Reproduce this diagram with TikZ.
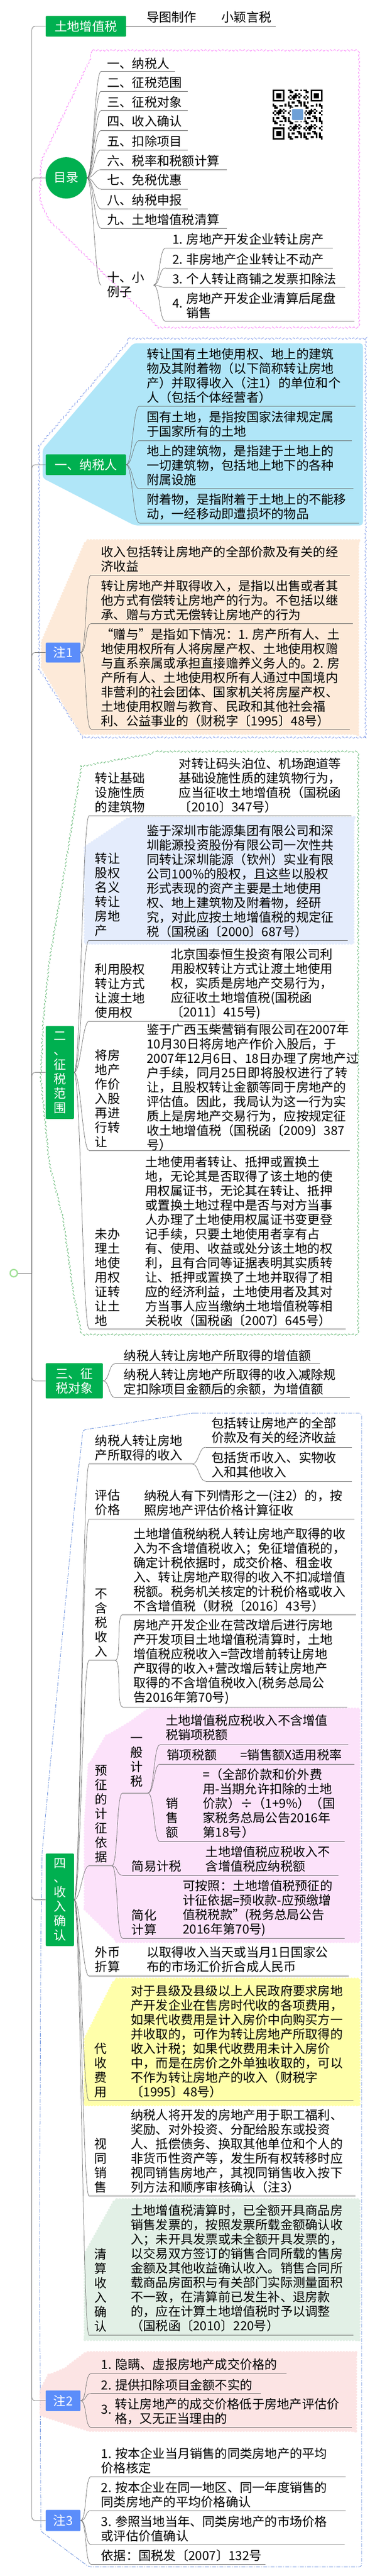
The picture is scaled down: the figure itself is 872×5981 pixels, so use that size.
\documentclass[tikz,border=0pt]{standalone}
\usepackage{fontspec}
\setmainfont{Noto Sans CJK SC}
\usetikzlibrary{decorations.pathmorphing}

\definecolor{mmgreen}{RGB}{0,176,80}
\definecolor{noteblue}{RGB}{91,141,250}
\definecolor{lnGray}{RGB}{105,105,105}
\definecolor{skyfill}{RGB}{176,230,248}
\definecolor{peachfill}{RGB}{253,234,217}
\definecolor{lavfill}{RGB}{228,236,252}
\definecolor{pinkfill}{RGB}{252,226,250}
\definecolor{yelfill}{RGB}{255,255,170}
\definecolor{mintfill}{RGB}{226,240,230}
\definecolor{rosefill}{RGB}{252,228,228}
\definecolor{pinkline}{RGB}{250,110,250}
\definecolor{blueline}{RGB}{110,140,230}
\definecolor{greenline}{RGB}{70,170,90}
\definecolor{dashblue}{RGB}{80,125,215}
\definecolor{rootgreen}{RGB}{160,225,150}
\definecolor{qrblue}{RGB}{110,160,215}

% underlined topic: name, x start, x end, y of line, text x, text y, text
\newcommand{\utopic}[7]{%
  \coordinate (#1) at (#2,#4);
  \coordinate (#1-e) at (#3,#4);
  \draw[uline] (#1) -- (#1-e);
  \node[txt] (#1-t) at (#5,#6) {#7};}
% curved connector from parent to child
\newcommand{\branch}[2]{\draw[twig] (#1) to[out=0,in=180,distance=15pt] (#2);}

\begin{document}
\begin{tikzpicture}[x=1pt, y=-1pt,
  every node/.style={font=\fontsize{29}{33.5}\selectfont},
  txt/.style={anchor=west, inner sep=0pt, align=left},
  mainbox/.style={fill=mmgreen, text=white, rounded corners=2pt, inner sep=0pt, anchor=west, align=center},
  notebox/.style={mainbox, fill=noteblue},
  uline/.style={draw=lnGray, line width=0.9pt},
  twig/.style={draw=lnGray, line width=0.9pt},
  trunkline/.style={draw=lnGray, line width=0.9pt},
  wavy/.style={line width=0.9pt, dash pattern=on 7pt off 3pt, decorate, decoration={snake, amplitude=1.8pt, segment length=10pt}},
  scallop/.style={decorate, decoration={bumps, segment length=14pt, amplitude=3.5pt}}]

  \useasboundingbox (0,0) rectangle (872,5981);
  \fill[white] (0,0) rectangle (872,5981);

  % Group backgrounds and frames
  \draw[wavy, draw=pinkline] (215,117) -- (832,117) -- (832,757) -- (369,757) -- (112,505) -- (92,460) -- (95,367) -- cycle;
  \draw[wavy, draw=blueline] (299,786) -- (852,786) -- (852,1713) -- (190,1713) -- (87,1553) -- (87,1033) -- cycle;
  \fill[skyfill, rounded corners=8pt] (310,797) -- (844,797) -- (844,1220) -- (313,1220) -- (99,1110) -- (99,1043) -- cycle;
  \fill[peachfill, scallop] (201,1255) -- (832,1255) -- (832,1703) -- (190,1703) -- (98,1550) -- (98,1490) -- cycle;
  \draw[wavy, draw=greenline] (363,1745) -- (827,1745) -- (827,3097) -- (187,3097) -- (168,3000) -- (145,2833) -- (112,2700) -- (92,2500) -- (98,2367) -- (112,2233) -- (151,2000) -- (187,1777) -- cycle;
  \fill[lavfill, scallop] (302,1898) -- (821,1898) -- (821,2190) -- (198,2190) -- (198,1967) -- cycle;
  \draw[dashblue, line width=0.9pt, dash pattern=on 9pt off 3pt on 2pt off 3pt, rounded corners=6pt] (447,3281) -- (841,3281) -- (841,5960) -- (207,5960) -- (95,5877) -- (92,5200) -- (95,4500) -- (98,4300) -- (126,4000) -- (173,3500) -- (193,3320) -- cycle;
  \fill[pinkfill, scallop] (346,3968) -- (835,3968) -- (835,4508) -- (274,4508) -- (198,4433) -- (198,4233) -- (207,4100) -- (246,4033) -- (302,4000) -- cycle;
  \fill[yelfill, scallop] (268,4595) -- (835,4595) -- (835,4887) -- (198,4887) -- (198,4733) -- cycle;
  \fill[mintfill, scallop] (268,5107) -- (835,5107) -- (835,5432) -- (198,5432) -- (198,5233) -- cycle;
  \fill[rosefill, scallop] (201,5462) -- (827,5462) -- (827,5643) -- (207,5643) -- (95,5607) -- (95,5550) -- (112,5517) -- (151,5500) -- cycle;

  % Root and main topics
  \node[circle, draw=rootgreen, line width=3pt, fill=white, minimum size=17pt, inner sep=0pt] (root) at (32,2956) {};
  \coordinate (trunk) at (74,2956);
  \node[mainbox, minimum width=187pt, minimum height=48pt] (hdr) at (106,61) {土地增值税};
  \node[circle, fill=mmgreen, text=white, minimum size=96pt, inner sep=0pt] (toc) at (154,413) {目录};
  \node[mainbox, minimum width=187pt, minimum height=48pt] (nsr) at (106,1079) {一、纳税人};
  \node[notebox, minimum width=81pt, minimum height=46pt] (n1) at (106,1515) {注1};
  \node[mainbox, minimum width=66pt, minimum height=216pt] (zsfw) at (106,2490) {二\\、\\征\\税\\范\\围};
  \node[mainbox, minimum width=133pt, minimum height=82pt] (zsdx) at (106,3206) {三、征\\税对象};
  \node[mainbox, minimum width=66pt, minimum height=215pt] (srqr) at (106,4411) {四\\、\\收\\入\\确\\认};
  \node[notebox, minimum width=81pt, minimum height=48pt] (n2) at (106,5574) {注2};
  \node[notebox, minimum width=81pt, minimum height=49pt] (n3) at (106,5852) {注3};

  % Trunk
  \draw[trunkline] (root.east) -- (trunk);
  \foreach \m in {hdr,toc,nsr,n1,zsfw,zsdx,srqr,n2,n3}
    {\draw[trunkline, rounded corners=8pt] (trunk) |- (\m.west);}

  % Title line
  \utopic{sub}{293}{641}{61}{341}{40}{导图制作\quad\quad 小颖言税}

  % Directory
  \utopic{toc1}{235}{407}{166}{249}{147}{一、纳税人}
  \utopic{toc2}{235}{437}{212}{249}{192}{二、征税范围}
  \utopic{toc3}{235}{437}{257}{249}{237}{三、征税对象}
  \utopic{toc4}{235}{437}{303}{249}{282}{四、收入确认}
  \utopic{toc5}{235}{437}{348}{249}{328}{五、扣除项目}
  \utopic{toc6}{235}{528}{394}{249}{373}{六、税率和税额计算}
  \utopic{toc7}{235}{437}{439}{249}{418}{七、免税优惠}
  \utopic{toc8}{235}{437}{485}{249}{465}{八、纳税申报}
  \utopic{toc9}{235}{528}{530}{249}{510}{九、土地增值税清算}
  \coordinate (toc10) at (235,662);
  \coordinate (toc10-e) at (357,662);
  \node[txt] (toc10-t) at (249,661) {十、小\\例子};
  \foreach \c in {toc1,toc2,toc3,toc4,toc5,toc6,toc7,toc8,toc9,toc10}
    {\branch{toc.east}{\c}}
  \utopic{ex1}{385}{774}{576}{401}{555}{1. 房地产开发企业转让房产}
  \utopic{ex2}{385}{774}{622}{401}{602}{2. 非房地产企业转让不动产}
  \utopic{ex3}{385}{803}{667}{401}{647}{3. 个人转让商铺之发票扣除法}
  \utopic{ex4}{385}{824}{746}{401}{709}{4.\hspace{8pt}\parbox[c]{390pt}{房地产开发企业清算后尾盘\\销售}}
  \foreach \c in {ex1,ex2,ex3,ex4} {\branch{toc10-e}{\c}}

  % QR code
  \foreach \i in {0,...,28} {
    \foreach \j in {0,...,28} {
      \pgfmathtruncatemacro{\qv}{mod(7*\i*\i+3*\j*\j+5*\i*\j+\i+2*\j+1,9)}
      \ifnum\qv<4 \fill (634+4*\i,208+4*\j) rectangle ++(4,4);\fi
    }
  }
  \foreach \fx/\fy in {634/208, 722/208, 634/296} {
    \fill[white] (\fx-4,\fy-4) rectangle ++(36,36);
    \fill (\fx,\fy) rectangle ++(28,28);
    \fill[white] (\fx+4,\fy+4) rectangle ++(20,20);
    \fill (\fx+8,\fy+8) rectangle ++(12,12);
  }
  \fill[white] (676,250) rectangle ++(32,32);
  \fill[qrblue, rounded corners=2pt] (679,253) rectangle ++(26,26);

  % Taxpayer
  \utopic{nsr1}{324}{826}{943}{341}{872.5}{转让国有土地使用权、地上的建筑\\物及其附着物（以下简称转让房地\\产）并取得收入（注1）的单位和个\\人（包括个体经营者）}
  \utopic{nsr2}{324}{818}{1023}{341}{984.5}{国有土地，是指按国家法律规定属\\于国家所有的土地}
  \utopic{nsr3}{324}{822}{1135}{341}{1081}{地上的建筑物，是指建于土地上的\\一切建筑物，包括地上地下的各种\\附属设施}
  \utopic{nsr4}{324}{835}{1214}{341}{1176.5}{附着物，是指附着于土地上的不能移\\动，一经移动即遭损坏的物品}
  \foreach \c in {nsr1,nsr2,nsr3,nsr4} {\branch{nsr.east}{\c}}

  % Note 1
  \utopic{n1a}{212}{813}{1335}{235}{1298.5}{收入包括转让房地产的全部价款及有关的经\\济收益}
  \utopic{n1b}{212}{820}{1448}{235}{1394}{转让房地产并取得收入，是指以出售或者其\\他方式有偿转让房地产的行为。不包括以继\\承、赠与方式无偿转让房地产的行为}
  \utopic{n1c}{212}{813}{1693}{235}{1573}{“赠与”是指如下情况：1. 房产所有人、土\\地使用权所有人将房屋产权、土地使用权赠\\与直系亲属或承担直接赡养义务人的。2. 房\\产所有人、土地使用权所有人通过中国境内\\非营利的社会团体、国家机关将房屋产权、\\土地使用权赠与教育、民政和其他社会福\\利、公益事业的（财税字〔1995〕48号）}
  \foreach \c in {n1a,n1b,n1c} {\branch{n1.east}{\c}}

  % Scope
  \utopic{za}{207}{400}{1894}{221}{1840}{转让基础\\设施性质\\的建筑物}
  \utopic{za2}{400}{817}{1894}{416}{1823}{对转让码头泊位、机场跑道等\\基础设施性质的建筑物行为，\\应当征收土地增值税（国税函\\〔2010〕347号）}
  \utopic{zb}{207}{325}{2183}{221}{2077.5}{转让\\股权\\名义\\转让\\房地\\产}
  \utopic{zb2}{325}{809}{2183}{341}{2045.5}{鉴于深圳市能源集团有限公司和深\\圳能源投资股份有限公司一次性共\\同转让深圳能源（钦州）实业有限\\公司100\%的股权，且这些以股权\\形式表现的资产主要是土地使用\\权、地上建筑物及附着物，经研\\究，对此应按土地增值税的规定征\\税（国税函〔2000〕687号）}
  \utopic{zc}{207}{382}{2371}{221}{2301}{利用股权\\转让方式\\让渡土地\\使用权}
  \utopic{zc2}{382}{802}{2371}{397}{2284.5}{北京国泰恒生投资有限公司利\\用股权转让方式让渡土地使用\\权，实质是房地产交易行为，\\应征收土地增值税(国税函\\〔2011〕415号)}
  \utopic{zd}{207}{325}{2671}{221}{2550}{将房\\地产\\作价\\入股\\再进\\行转\\让}
  \utopic{zd2}{325}{813}{2671}{341}{2524.5}{鉴于广西玉柴营销有限公司在2007年\\10月30日将房地产作价入股后，于\\2007年12月6日、18日办理了房地产过\\户手续，同月25日即将股权进行了转\\让，且股权转让金额等同于房地产的\\评估值。因此，我局认为这一行为实\\质上是房地产交易行为，应按规定征\\收土地增值税（国税函〔2009〕387\\号）}
  \utopic{ze}{207}{322}{3085}{221}{2965}{未办\\理土\\地使\\用权\\证转\\让土\\地}
  \utopic{ze2}{322}{804}{3085}{338}{2882}{土地使用者转让、抵押或置换土\\地，无论其是否取得了该土地的使\\用权属证书，无论其在转让、抵押\\或置换土地过程中是否与对方当事\\人办理了土地使用权属证书变更登\\记手续，只要土地使用者享有占\\有、使用、收益或处分该土地的权\\利，且有合同等证据表明其实质转\\让、抵押或置换了土地并取得了相\\应的经济利益，土地使用者及其对\\方当事人应当缴纳土地增值税等相\\关税收（国税函〔2007〕645号）}
  \foreach \c in {za,zb,zc,zd,ze} {\branch{zsfw.east}{\c}}

  % Object
  \utopic{s1}{268}{744}{3166}{288}{3147}{纳税人转让房地产所取得的增值额}
  \utopic{s2}{268}{813}{3245}{288}{3208.5}{纳税人转让房地产所取得的收入减除规\\定扣除项目金额后的余额，为增值额}
  \foreach \c in {s1,s2} {\branch{zsdx.east}{\c}}

  % Income
  \utopic{qa}{207}{447}{3399}{221}{3361.5}{纳税人转让房地\\产所取得的收入}
  \utopic{qa1}{478}{818}{3360}{492}{3321.5}{包括转让房地产的全部\\价款及有关的经济收益}
  \utopic{qa2}{478}{818}{3439}{492}{3401}{包括货币收入、实物收\\入和其他收入}
  \utopic{qb}{207}{320}{3527}{221}{3489}{评估\\价格}
  \utopic{qb2}{320}{824}{3527}{335}{3489}{纳税人有下列情形之一(注2）的，按\\照房地产评估价格计算征收}
  \utopic{qc}{207}{268}{3855}{221}{3768.5}{不\\含\\税\\收\\入}
  \utopic{qc1}{285}{828}{3749}{310}{3645}{土地增值税纳税人转让房地产取得的收\\入为不含增值税收入；免征增值税的，\\确定计税依据时，成交价格、租金收\\入、转让房地产取得的收入不扣减增值\\税额。税务机关核定的计税价格或收入\\不含增值税（财税〔2016〕43号）}
  \utopic{qc2}{285}{807}{3963}{310}{3858.5}{房地产开发企业在营改增后进行房地\\产开发项目土地增值税清算时，土地\\增值税应税收入=营改增前转让房地\\产取得的收入+营改增后转让房地产\\取得的不含增值税收入(税务总局公\\告2016年第70号)}
  \utopic{qd}{207}{260}{4332}{221}{4212}{预\\征\\的\\计\\征\\依\\据}
  \utopic{qd1}{285}{344}{4163}{303}{4091.5}{一\\般\\计\\税}
  \utopic{qd11}{372}{810}{4051}{385}{4010.5}{土地增值税应税收入不含增值\\税销项税额}
  \utopic{qd12}{372}{545}{4096}{388}{4075}{销项税额}
  \utopic{qd12b}{545}{824}{4096}{559}{4075}{=销售额X适用税率}
  \utopic{qd13}{372}{458}{4276}{386}{4221}{销\\售\\额}
  \utopic{qd13b}{458}{802}{4276}{472}{4187.5}{=（全部价款和价外费\\用-当期允许扣除的土地\\价款）÷（1+9\%）（国\\家税务总局公告2016年\\第18号）}
  \utopic{qd2}{285}{465}{4354}{306}{4333}{简易计税}
  \utopic{qd2b}{465}{787}{4354}{478}{4316.5}{土地增值税应税收入不\\含增值税应纳税额}
  \utopic{qd3}{285}{410}{4500}{306}{4463.5}{简化\\计算}
  \utopic{qd3b}{410}{802}{4500}{425}{4430}{可按照：土地增值税预征的\\计征依据=预收款-应预缴增\\值税税款”(税务总局公告\\2016年第70号)}
  \utopic{qe}{207}{325}{4588}{221}{4550}{外币\\折算}
  \utopic{qe2}{325}{811}{4588}{341}{4550}{以取得收入当天或当月1日国家公\\布的市场汇价折合成人民币}
  \utopic{qf}{207}{290}{4877}{219}{4807}{代\\收\\费\\用}
  \utopic{qf2}{290}{822}{4877}{304}{4740}{对于县级及县级以上人民政府要求房地\\产开发企业在售房时代收的各项费用，\\如果代收费用是计入房价中向购买方一\\并收取的，可作为转让房地产所取得的\\收入计税；如果代收费用未计入房价\\中，而是在房价之外单独收取的，可以\\不作为转让房地产的收入（财税字\\〔1995〕48号）}
  \utopic{qg}{207}{290}{5099}{219}{5028}{视\\同\\销\\售}
  \utopic{qg2}{290}{826}{5099}{304}{4995}{纳税人将开发的房地产用于职工福利、\\奖励、对外投资、分配给股东或投资\\人、抵偿债务、换取其他单位和个人的\\非货币性资产等，发生所有权转移时应\\视同销售房地产，其视同销售收入按下\\列方法和顺序审核确认（注3）}
  \utopic{qh}{207}{290}{5422}{219}{5317.5}{清\\算\\收\\入\\确\\认}
  \utopic{qh2}{290}{822}{5422}{304}{5266.5}{土地增值税清算时，已全额开具商品房\\销售发票的，按照发票所载金额确认收\\入；未开具发票或未全额开具发票的，\\以交易双方签订的销售合同所载的售房\\金额及其他收益确认收入。销售合同所\\载商品房面积与有关部门实际测量面积\\不一致，在清算前已发生补、退房款\\的，应在计算土地增值税时予以调整\\（国税函〔2010〕220号）}
  \foreach \c in {qa,qb,qc,qd,qe,qf,qg,qh} {\branch{srqr.east}{\c}}
  \foreach \c in {qa1,qa2} {\branch{qa-e}{\c}}
  \foreach \c in {qc1,qc2} {\branch{qc-e}{\c}}
  \foreach \c in {qd1,qd2,qd3} {\branch{qd-e}{\c}}
  \foreach \c in {qd11,qd12,qd13} {\branch{qd1-e}{\c}}

  % Notes 2 and 3
  \utopic{n2a}{212}{666}{5511}{235}{5490}{1. 隐瞒、虚报房地产成交价格的}
  \utopic{n2b}{212}{606}{5557}{235}{5537}{2. 提供扣除项目金额不实的}
  \utopic{n2c}{212}{818}{5636}{235}{5598.5}{3.\hspace{8pt}\parbox[c]{540pt}{转让房地产的成交价格低于房地产评估价\\格，又无正当理由的}}
  \foreach \c in {n2a,n2b,n2c} {\branch{n2.east}{\c}}
  \utopic{n3a}{212}{804}{5750}{235}{5713.5}{1. 按本企业当月销售的同类房地产的平均\\价格核定}
  \utopic{n3b}{212}{804}{5829}{235}{5792.5}{2. 按本企业在同一地区、同一年度销售的\\同类房地产的平均价格确认}
  \utopic{n3c}{212}{802}{5908}{235}{5871.5}{3. 参照当地当年、同类房地产的市场价格\\或评估价值确认}
  \utopic{n3d}{212}{617}{5954}{235}{5933}{依据：国税发〔2007〕132号}
  \foreach \c in {n3a,n3b,n3c,n3d} {\branch{n3.east}{\c}}

\end{tikzpicture}
\end{document}
